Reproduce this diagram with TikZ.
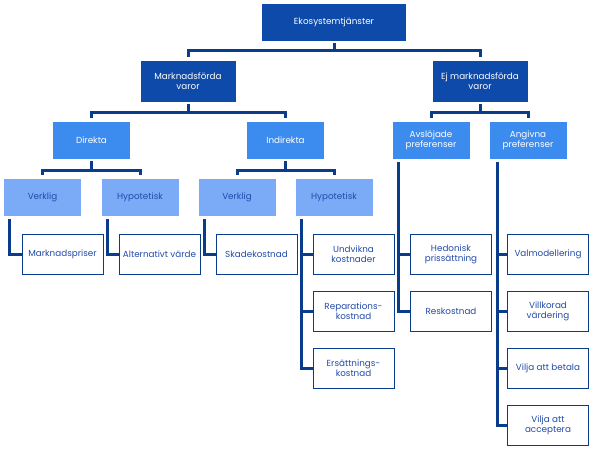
\documentclass[tikz,border=0pt]{standalone}
\usepackage{fontspec}
\setmainfont{Poppins}
\definecolor{darkbox}{RGB}{14,74,170}
\definecolor{midbox}{RGB}{60,140,240}
\definecolor{lightbox}{RGB}{123,170,247}
\definecolor{linecol}{RGB}{10,60,140}
\definecolor{leaftext}{RGB}{35,75,170}
\begin{document}
\begin{tikzpicture}[x=1pt,y=-1pt,
    font=\fontsize{8.8}{10.2}\selectfont,
    topbox/.style={fill=darkbox,text=white,align=center,minimum width=144pt,minimum height=37pt,inner sep=1pt},
    mainbox/.style={fill=darkbox,text=white,align=center,minimum width=95pt,minimum height=41pt,inner sep=1pt},
    subbox/.style={fill=midbox,text=white,align=center,minimum width=77pt,minimum height=37pt,inner sep=1pt},
    kindbox/.style={fill=lightbox,text=leaftext,align=center,minimum width=77pt,minimum height=37pt,inner sep=1pt},
    leafbox/.style={draw=linecol,line width=0.8pt,fill=white,text=leaftext,align=center,minimum width=81pt,minimum height=40pt,inner sep=1pt},
    conn/.style={draw=linecol,line width=3pt}]
	   \useasboundingbox (0,0) rectangle (595,455);
	   % boxes
	   \node [topbox] (eko) at (334,22.5) {Ekosystemtjänster};
	   \node [mainbox] (mark) at (188,81.5) {Marknadsförda\\varor};
	   \node [mainbox] (ejmark) at (480,81.5) {Ej marknadsförda\\varor};
	   \node [subbox] (dir) at (91.5,140.5) {Direkta};
	   \node [subbox] (indir) at (285.5,140.5) {Indirekta};
	   \node [subbox] (avsl) at (431,140.5) {Avslöjade\\preferenser};
	   \node [subbox] (angiv) at (528,140.5) {Angivna\\preferenser};
	   \node [kindbox] (verkA) at (42.5,197.5) {Verklig};
	   \node [kindbox] (hypA) at (140,197.5) {Hypotetisk};
	   \node [kindbox] (verkB) at (237,197.5) {Verklig};
	   \node [kindbox] (hypB) at (334,197.5) {Hypotetisk};
	   \node [leafbox] (mpris) at (62.5,254) {Marknadspriser};
	   \node [leafbox] (altv) at (159.5,254) {Alternativt värde};
	   \node [leafbox] (skade) at (256.5,254) {Skadekostnad};
	   \node [leafbox] (undv) at (353.5,254) {Undvikna\\kostnader};
	   \node [leafbox] (repar) at (353.5,311) {Reparations-\\kostnad};
	   \node [leafbox] (ersatt) at (353.5,368) {Ersättnings-\\kostnad};
	   \node [leafbox] (hedon) at (451,254) {Hedonisk\\prissättning};
	   \node [leafbox] (resk) at (451,311) {Reskostnad};
	   \node [leafbox] (valm) at (548,254) {Valmodellering};
	   \node [leafbox] (villk) at (548,311) {Villkorad\\värdering};
	   \node [leafbox] (betala) at (548,368) {Vilja att betala};
	   \node [leafbox] (accept) at (548,425) {Vilja att\\acceptera};
	   % tree connectors
	   \draw[conn,shorten <=2pt,shorten >=4pt] (eko.south) -- ++(0,9) -| (mark.north);
	   \draw[conn,shorten <=2pt,shorten >=4pt] (eko.south) -- ++(0,9) -| (ejmark.north);
	   \draw[conn,shorten <=2pt,shorten >=4pt] (mark.south) -- ++(0,10) -| (dir.north);
	   \draw[conn,shorten <=2pt,shorten >=4pt] (mark.south) -- ++(0,10) -| (indir.north);
	   \draw[conn,shorten <=2pt,shorten >=4pt] (ejmark.south) -- ++(0,10) -| (avsl.north);
	   \draw[conn,shorten <=2pt,shorten >=4pt] (ejmark.south) -- ++(0,10) -| (angiv.north);
	   \draw[conn,shorten <=2pt,shorten >=4pt] (dir.south) -- ++(0,11) -| (verkA.north);
	   \draw[conn,shorten <=2pt,shorten >=4pt] (dir.south) -- ++(0,11) -| (hypA.north);
	   \draw[conn,shorten <=2pt,shorten >=4pt] (indir.south) -- ++(0,11) -| (verkB.north);
	   \draw[conn,shorten <=2pt,shorten >=4pt] (indir.south) -- ++(0,11) -| (hypB.north);
	   % leaf connectors
	   \draw[conn] ([xshift=6pt,yshift=-3pt]verkA.south west) |- (mpris.west);
	   \draw[conn] ([xshift=6pt,yshift=-3pt]hypA.south west) |- (altv.west);
	   \draw[conn] ([xshift=6pt,yshift=-3pt]verkB.south west) |- (skade.west);
	   \foreach \leaf in {undv,repar,ersatt}
	      \draw[conn] ([xshift=6pt,yshift=-3pt]hypB.south west) |- (\leaf.west);
	   \foreach \leaf in {hedon,resk}
	      \draw[conn] ([xshift=6pt,yshift=-3pt]avsl.south west) |- (\leaf.west);
	   \foreach \leaf in {valm,villk,betala,accept}
	      \draw[conn] ([xshift=8pt,yshift=-3pt]angiv.south west) |- (\leaf.west);
	\end{tikzpicture}
\end{document}
